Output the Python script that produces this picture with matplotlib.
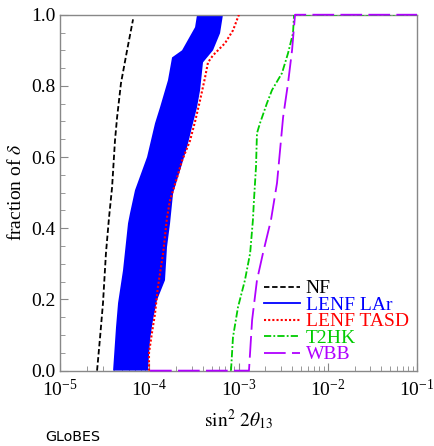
import numpy as np
import matplotlib
matplotlib.use("Agg")
import matplotlib.pyplot as plt
from matplotlib.ticker import LogLocator, LogFormatterMathtext, MultipleLocator, FormatStrFormatter

plt.rcParams['font.family'] = ['Liberation Serif', 'DejaVu Serif']
plt.rcParams['mathtext.fontset'] = 'stix'

# data: (sin^2 2theta13, fraction of delta)
nf_x = [2.6e-5, 2.81e-5, 3.03e-5, 3.27e-5, 3.54e-5, 3.83e-5, 4.13e-5, 4.36e-5, 4.82e-5, 5.64e-5, 6.58e-5]
nf_y = [0.0, 0.094, 0.19, 0.33, 0.43, 0.515, 0.647, 0.712, 0.808, 0.90, 0.987]

lar_lo_x = [3.93e-5, 4.24e-5, 4.47e-5, 5.08e-5, 5.78e-5, 6.08e-5, 6.92e-5, 9.44e-5, 1.16e-4, 1.32e-4, 1.62e-4, 1.80e-4, 2.33e-4, 3.26e-4, 3.43e-4]
lar_lo_y = [0.0, 0.122, 0.19, 0.282, 0.414, 0.442, 0.507, 0.60, 0.695, 0.74, 0.816, 0.88, 0.90, 0.965, 1.0]
lar_hi_x = [9.68e-5, 1.02e-4, 1.10e-4, 1.22e-4, 1.50e-4, 1.58e-4, 1.71e-4, 1.85e-4, 2.21e-4, 2.65e-4, 3.01e-4, 3.43e-4, 3.71e-4, 4.00e-4, 5.18e-4, 6.21e-4, 6.70e-4]
lar_hi_y = [0.0, 0.086, 0.142, 0.198, 0.254, 0.347, 0.414, 0.499, 0.562, 0.627, 0.684, 0.74, 0.788, 0.866, 0.90, 0.948, 1.0]

tasd_x = [9.93e-5, 9.93e-5, 1.07e-4, 1.16e-4, 1.25e-4, 1.43e-4, 1.58e-4, 1.71e-4, 2.05e-4, 2.33e-4, 2.86e-4, 3.26e-4, 3.71e-4, 4.22e-4, 4.55e-4, 5.18e-4, 7.06e-4, 8.67e-4, 1.01e-3]
tasd_y = [0.0, 0.05, 0.105, 0.16, 0.235, 0.33, 0.43, 0.479, 0.543, 0.59, 0.646, 0.70, 0.76, 0.824, 0.866, 0.886, 0.92, 0.956, 1.0]

t2hk_x = [8.24e-4, 8.67e-4, 9.86e-4, 1.18e-3, 1.35e-3, 1.45e-3, 1.49e-3, 1.57e-3, 1.61e-3, 1.74e-3, 2.08e-3, 2.37e-3, 3.07e-3, 3.59e-3, 4.08e-3, 4.19e-3, 1e-1]
t2hk_y = [0.0, 0.094, 0.178, 0.254, 0.33, 0.423, 0.479, 0.572, 0.667, 0.695, 0.751, 0.788, 0.836, 0.892, 0.948, 1.0, 1.0]

wbb_x = [1.02e-4, 1.31e-3, 1.42e-3, 1.61e-3, 1.88e-3, 2.31e-3, 2.70e-3, 2.92e-3, 3.16e-3, 3.59e-3, 3.98e-3, 4.30e-3, 1e-1]
wbb_y = [0.0, 0.0, 0.142, 0.254, 0.33, 0.423, 0.527, 0.619, 0.712, 0.808, 0.90, 1.0, 1.0]

labels = ["NF", "LENF LAr", "LENF TASD", "T2HK", "WBB"]
colors = ["black", "#0000ff", "#ff0000", "#00cc00", "#b000ff"]

fig = plt.figure(figsize=(4.35, 4.46), dpi=100)
ax = fig.add_axes([0.138, 0.169, 0.8206, 0.798])

ax.fill(lar_lo_x + lar_hi_x[::-1], lar_lo_y + lar_hi_y[::-1], color=colors[1], lw=0, zorder=2)
h_lar, = ax.plot([], [], color=colors[1], lw=1.3)
h_nf, = ax.plot(nf_x, nf_y, color=colors[0], ls=(0, (3, 1.5)), lw=1.3, zorder=3)
h_tasd, = ax.plot(tasd_x, tasd_y, color=colors[2], ls=(0, (1, 1)), lw=1.5, zorder=3)
h_t2hk, = ax.plot(t2hk_x, t2hk_y, color=colors[3], ls=(0, (4, 1.2, 1, 1.2)), lw=1.3, zorder=3)
h_wbb, = ax.plot(wbb_x, wbb_y, color=colors[4], ls=(0, (12, 3.5)), lw=1.3, zorder=4, clip_on=False)

ax.set_xscale('log')
ax.set_xlim(1e-5, 1e-1)
ax.set_ylim(0, 1)
ax.xaxis.set_major_locator(LogLocator(base=10, numticks=10))
ax.xaxis.set_minor_locator(LogLocator(base=10, subs=np.arange(2, 10), numticks=20))
ax.xaxis.set_major_formatter(LogFormatterMathtext())
ax.yaxis.set_major_locator(MultipleLocator(0.2))
ax.yaxis.set_minor_locator(MultipleLocator(0.05))
ax.yaxis.set_major_formatter(FormatStrFormatter('%.1f'))

for s in ax.spines.values():
    s.set_color('#888888')
    s.set_linewidth(1.0)
ax.tick_params(which='both', direction='in', top=False, right=False, colors='#888888', labelcolor='black', labelsize=14)
ax.tick_params(which='major', length=6)
ax.tick_params(which='minor', length=3.5)
ax.tick_params(axis='x', pad=6)

ax.set_xlabel(r'$\sin^2\,2\theta_{13}$', fontsize=14, labelpad=5)
ax.set_ylabel(r'fraction of $\delta$', fontsize=14, labelpad=4)

leg = ax.legend([h_nf, h_lar, h_tasd, h_t2hk, h_wbb], labels, loc='center left',
                bbox_to_anchor=(0.571, 0.138), frameon=False, fontsize=14, handlelength=1.85,
                handletextpad=0.3, labelspacing=-0.057, borderaxespad=0, borderpad=0)
for t, c in zip(leg.get_texts(), colors):
    t.set_color(c)

fig.text(0.105, 0.012, 'GLoBES', family=['DejaVu Sans'], fontsize=10.3)

fig.savefig('out.png', dpi=100)
